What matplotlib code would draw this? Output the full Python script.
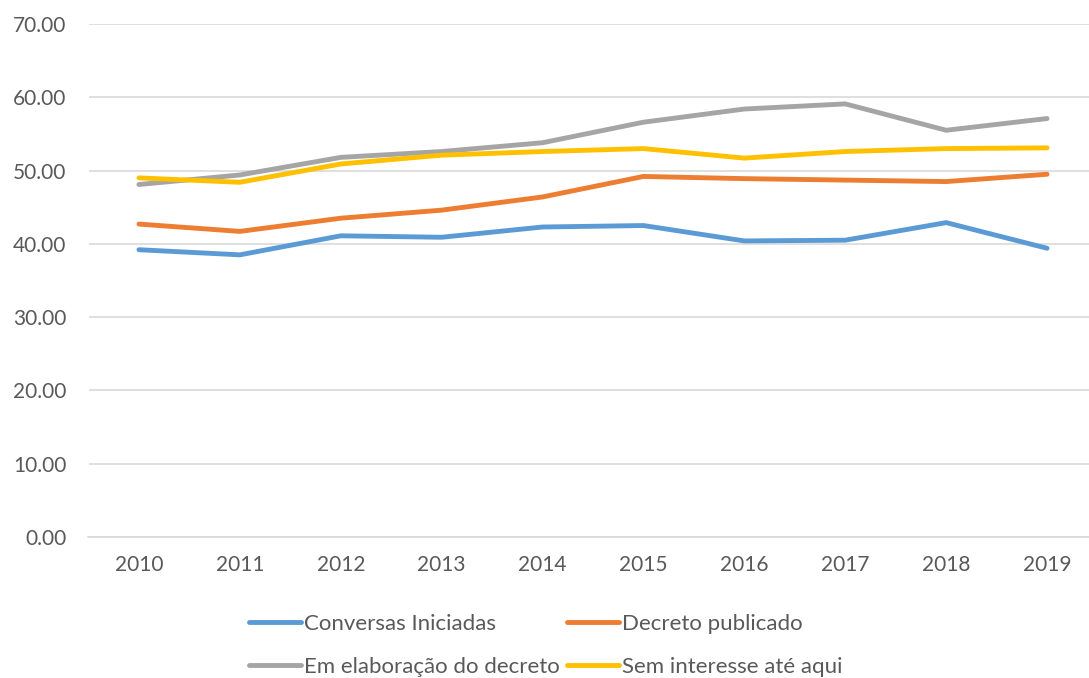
import matplotlib
matplotlib.use("Agg")
import matplotlib.pyplot as plt

years = ["2010", "2011", "2012", "2013", "2014", "2015", "2016", "2017", "2018", "2019"]
conversas = [39.2, 38.5, 41.1, 40.9, 42.3, 42.5, 40.4, 40.5, 42.9, 39.4]
decreto = [42.7, 41.7, 43.5, 44.6, 46.4, 49.2, 48.9, 48.7, 48.5, 49.5]
elaboracao = [48.1, 49.4, 51.8, 52.6, 53.8, 56.6, 58.4, 59.1, 55.5, 57.1]
sem_interesse = [49.0, 48.4, 50.9, 52.1, 52.6, 53.0, 51.7, 52.6, 53.0, 53.1]
series_names = ["Conversas Iniciadas", "Decreto publicado", "Em elaboração do decreto", "Sem interesse até aqui"]
colors = ["#5B9BD5", "#ED7D31", "#A5A5A5", "#FFC000"]
yticks = [0, 10, 20, 30, 40, 50, 60, 70]

plt.rcParams['font.family'] = ['Lato', 'DejaVu Sans']
W, H = 1089, 678
fig = plt.figure(figsize=(W / 100, H / 100), dpi=100)
ax = fig.add_axes([88.5 / W, (H - 537) / H, 1009 / W, 513 / H])

x = list(range(len(years)))
lines = []
for data, name, c in zip([conversas, decreto, elaboracao, sem_interesse], series_names, colors):
    ln, = ax.plot(x, data, color=c, lw=3.5, label=name, solid_capstyle='round', solid_joinstyle='round')
    lines.append(ln)

ax.set_xlim(-0.5, len(years) - 0.5)
ax.set_ylim(0, 70)
ax.set_yticks(yticks)
ax.set_yticklabels([f"{v:.2f}" for v in yticks])
ax.set_xticks(x)
ax.set_xticklabels(years)
ax.grid(axis='y', color='#D9D9D9', lw=1.2)
ax.set_axisbelow(True)
for s in ['top', 'right', 'left']:
    ax.spines[s].set_visible(False)
ax.spines['bottom'].set_color('#D9D9D9')
ax.spines['bottom'].set_linewidth(1.2)
ax.tick_params(axis='both', length=0, colors='#595959', labelsize=15)
ax.tick_params(axis='x', pad=13)
ax.tick_params(axis='y', pad=16)

order = [0, 2, 1, 3]
leg = fig.legend([lines[i] for i in order], [series_names[i] for i in order],
                 loc='upper left', bbox_to_anchor=(240 / W, 1 - 605 / H), ncol=2,
                 frameon=False, handlelength=2.35, handletextpad=0.15, columnspacing=0.3,
                 labelspacing=1.05, fontsize=16, labelcolor='#595959', borderaxespad=0)
fig.savefig("out.png", dpi=100)
